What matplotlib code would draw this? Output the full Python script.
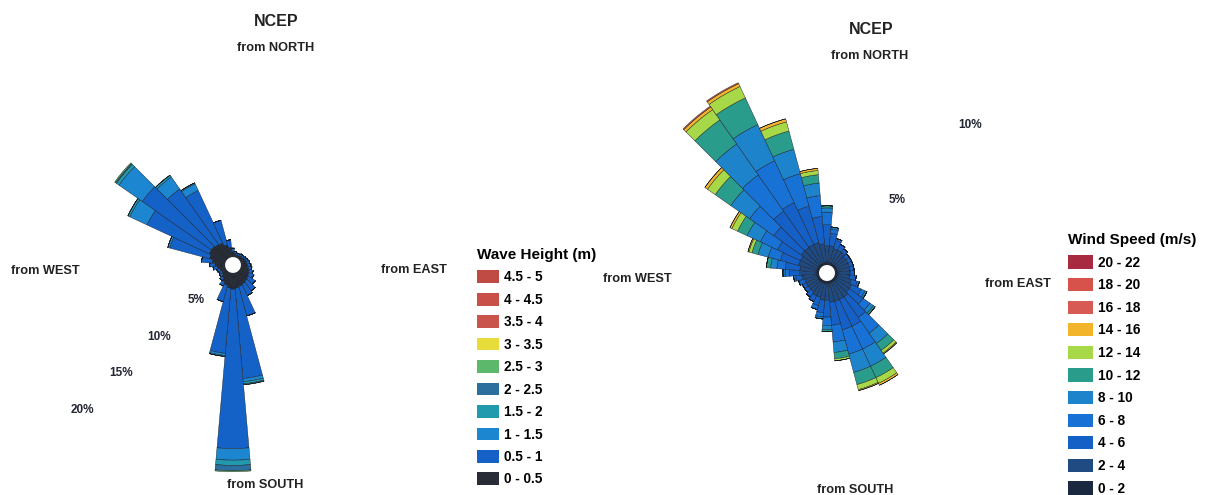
import numpy as np
import matplotlib.pyplot as plt
from matplotlib.patches import Patch

plt.rcParams['font.family'] = ['Liberation Sans', 'DejaVu Sans']
plt.rcParams['font.weight'] = 'bold'

W, H = 1215, 495

# direction bins (compass degrees, "coming from")
directions = np.arange(0, 360, 10)

# ---- wave rose: % occurrence per bin, one list per height class
wave_labels = ['0 - 0.5', '0.5 - 1', '1 - 1.5', '1.5 - 2', '2 - 2.5',
               '2.5 - 3', '3 - 3.5', '3.5 - 4', '4 - 4.5', '4.5 - 5']
wave_colors = ['#272c36', '#1462c8', '#1d86d0', '#229aae', '#2a6f9e',
               '#5cb86a', '#e8dc3a', '#c9544b', '#c95049', '#c04a44']
wave_00_05 = [1.3, 1.1, 1.0, 1.0, 1.1, 1.1, 1.2, 1.3, 1.3, 1.4, 1.5, 1.6,
              1.7, 1.8, 1.9, 2.0, 2.1, 2.2, 2.3, 2.2, 2.0, 1.8, 1.5, 1.3,
              1.2, 1.3, 1.5, 1.7, 2.0, 2.3, 2.5, 2.5, 2.4, 2.3, 2.0, 1.7]
wave_05_10 = [0.3, 0.2, 0.2, 0.2, 0.2, 0.2, 0.2, 0.2, 0.3, 0.3, 0.3, 0.4,
              0.5, 0.8, 1.1, 1.2, 2.9, 8.6, 15.1, 6.2, 1.6, 0.4, 0.3, 0.3,
              0.3, 0.3, 0.4, 0.5, 1.0, 3.9, 6.5, 8.0, 6.4, 5.5, 2.4, 0.7]
wave_10_15 = [0, 0, 0, 0, 0, 0, 0, 0, 0, 0, 0, 0,
              0, 0, 0, 0, 0, 0.3, 1.1, 0.2, 0, 0, 0, 0,
              0, 0, 0, 0, 0, 0.2, 1.8, 2.7, 1.4, 0.7, 0, 0]
wave_15_20 = [0, 0, 0, 0, 0, 0, 0, 0, 0, 0, 0, 0,
              0, 0, 0, 0, 0, 0.2, 0.5, 0.1, 0, 0, 0, 0,
              0, 0, 0, 0, 0, 0, 0.2, 0.3, 0.2, 0.1, 0, 0]
wave_20_25 = [0, 0, 0, 0, 0, 0, 0, 0, 0, 0, 0, 0,
              0, 0, 0, 0, 0, 0.1, 0.5, 0, 0, 0, 0, 0,
              0, 0, 0, 0, 0, 0, 0, 0.1, 0, 0, 0, 0]
wave_25_30 = [0, 0, 0, 0, 0, 0, 0, 0, 0, 0, 0, 0,
              0, 0, 0, 0, 0, 0, 0.1, 0, 0, 0, 0, 0,
              0, 0, 0, 0, 0, 0, 0, 0.1, 0, 0, 0, 0]
wave_classes = [wave_00_05, wave_05_10, wave_10_15, wave_15_20, wave_20_25, wave_25_30]

# ---- wind rose: % occurrence per bin, one list per speed class
wind_labels = ['0 - 2', '2 - 4', '4 - 6', '6 - 8', '8 - 10', '10 - 12',
               '12 - 14', '14 - 16', '16 - 18', '18 - 20', '20 - 22']
wind_colors = ['#1b2940', '#1f4a82', '#1560c6', '#1872d6', '#1d84cc', '#2a9c8c',
               '#a6d848', '#f2b42a', '#d85a54', '#d8524c', '#a82a40']
wind_00_02 = [0.5] * 36
wind_02_04 = [0.8, 0.8, 0.7, 0.7, 0.7, 0.6, 0.6, 0.6, 0.6, 0.6, 0.6, 0.7,
              0.8, 0.8, 0.9, 0.9, 0.9, 0.9, 0.8, 0.8, 0.7, 0.7, 0.6, 0.6,
              0.6, 0.6, 0.7, 0.8, 0.8, 0.9, 0.9, 1.0, 1.0, 1.0, 1.0, 0.9]
wind_04_06 = [1.0, 0.6, 0.4, 0.3, 0.2, 0.2, 0.2, 0.2, 0.2, 0.2, 0.3, 0.3,
              0.5, 0.8, 1.2, 1.4, 1.4, 1.1, 0.8, 0.6, 0.4, 0.3, 0.3, 0.2,
              0.2, 0.3, 0.3, 0.5, 0.7, 0.9, 1.2, 1.6, 2.1, 2.2, 1.8, 1.3]
wind_06_08 = [0.6, 0.2, 0.1, 0, 0, 0, 0, 0, 0, 0, 0, 0.1,
              0.2, 0.4, 0.9, 1.2, 1.2, 0.8, 0.4, 0.2, 0.2, 0, 0, 0,
              0, 0, 0.1, 0.2, 0.4, 0.6, 0.9, 1.4, 2.1, 2.2, 1.6, 1.0]
wind_08_10 = [0.2, 0.1, 0, 0, 0, 0, 0, 0, 0, 0, 0, 0,
              0.1, 0.2, 0.6, 0.9, 0.9, 0.5, 0.2, 0.1, 0, 0, 0, 0,
              0, 0, 0, 0.1, 0.3, 0.5, 0.7, 1.1, 1.8, 1.9, 1.2, 0.6]
wind_10_12 = [0.1, 0, 0, 0, 0, 0, 0, 0, 0, 0, 0, 0,
              0, 0.1, 0.4, 0.6, 0.6, 0.3, 0.1, 0, 0, 0, 0, 0,
              0, 0, 0, 0, 0.2, 0.3, 0.5, 0.9, 1.4, 1.4, 0.9, 0.4]
wind_12_14 = [0, 0, 0, 0, 0, 0, 0, 0, 0, 0, 0, 0,
              0, 0, 0.15, 0.3, 0.25, 0.1, 0, 0, 0, 0, 0, 0,
              0, 0, 0, 0, 0, 0.15, 0.3, 0.45, 0.6, 0.6, 0.45, 0.2]
wind_14_16 = [0, 0, 0, 0, 0, 0, 0, 0, 0, 0, 0, 0,
              0, 0, 0.05, 0.1, 0.05, 0, 0, 0, 0, 0, 0, 0,
              0, 0, 0, 0, 0, 0.05, 0.1, 0.15, 0.15, 0.15, 0.15, 0.1]
wind_16_18 = [0, 0, 0, 0, 0, 0, 0, 0, 0, 0, 0, 0,
              0, 0, 0, 0, 0, 0, 0, 0, 0, 0, 0, 0,
              0, 0, 0, 0, 0, 0, 0, 0, 0.05, 0.05, 0, 0]
wind_classes = [wind_00_02, wind_02_04, wind_04_06, wind_06_08, wind_08_10,
                wind_10_12, wind_12_14, wind_14_16, wind_16_18]

fig = plt.figure(figsize=(W / 100, H / 100), dpi=100)


def px(x, y):
    return x / W, 1 - y / H


def rose(cx, cy, radius, rmax, classes, colors, hole, ring_vals, ring_angle):
    ax = fig.add_axes([(cx - radius) / W, (H - cy - radius) / H,
                       2 * radius / W, 2 * radius / H], projection='polar')
    ax.set_theta_zero_location('N')
    ax.set_theta_direction(-1)
    theta = np.deg2rad(directions)
    width = np.deg2rad(10)
    bottom = np.zeros(len(directions))
    for vals, col in zip(classes, colors):
        vals = np.array(vals)
        ax.bar(theta, vals, width=width, bottom=bottom, color=col,
               edgecolor='#15181e', linewidth=0.3)
        bottom += vals
    ax.bar(0, hole, width=2 * np.pi, bottom=0, color='white', zorder=5)
    for v in ring_vals:
        ax.text(np.deg2rad(ring_angle), v - 0.2, f'{v}%', ha='center', va='center',
                fontsize=8.5, color='#222632')
    ax.set_ylim(0, rmax)
    ax.axis('off')
    return ax


rose(233, 265, 221.5, 21, wave_classes, wave_colors, 0.75, [5, 10, 15, 20], 226)
rose(827, 273, 220.5, 10.5, wind_classes, wind_colors, 0.38, [5, 10], 44)

txt = dict(fontsize=9.2, ha='center', va='center', color='#222')
for (x, y), s in [((276, 48), 'from NORTH'), ((265, 485), 'from SOUTH'),
                  ((45, 271), 'from WEST'), ((414, 270), 'from EAST'),
                  ((870, 56), 'from NORTH'), ((855, 490), 'from SOUTH'),
                  ((637, 279), 'from WEST'), ((1018, 284), 'from EAST')]:
    fig.text(*px(x, y), s, **txt)
fig.text(*px(276, 22), 'NCEP', fontsize=11.5, ha='center', va='center', color='#222')
fig.text(*px(871, 30), 'NCEP', fontsize=11.5, ha='center', va='center', color='#222')

# legends (highest class on top)
wave_handles = [Patch(facecolor=c, edgecolor='none') for c in wave_colors[::-1]]
leg1 = fig.legend(wave_handles, wave_labels[::-1], loc='upper left',
                  bbox_to_anchor=px(477, 248), frameon=False, fontsize=9.8,
                  title='Wave Height (m)', title_fontsize=11, alignment='left',
                  handlelength=1.6, handleheight=1.05, handletextpad=0.4,
                  labelspacing=0.62, borderpad=0, borderaxespad=0)
wind_handles = [Patch(facecolor=c, edgecolor='none') for c in wind_colors[::-1]]
leg2 = fig.legend(wind_handles, wind_labels[::-1], loc='upper left',
                  bbox_to_anchor=px(1068, 233), frameon=False, fontsize=9.8,
                  title='Wind Speed (m/s)', title_fontsize=11, alignment='left',
                  handlelength=1.8, handleheight=1.1, handletextpad=0.4,
                  labelspacing=0.62, borderpad=0, borderaxespad=0)

fig.savefig('out.png', dpi=100)
